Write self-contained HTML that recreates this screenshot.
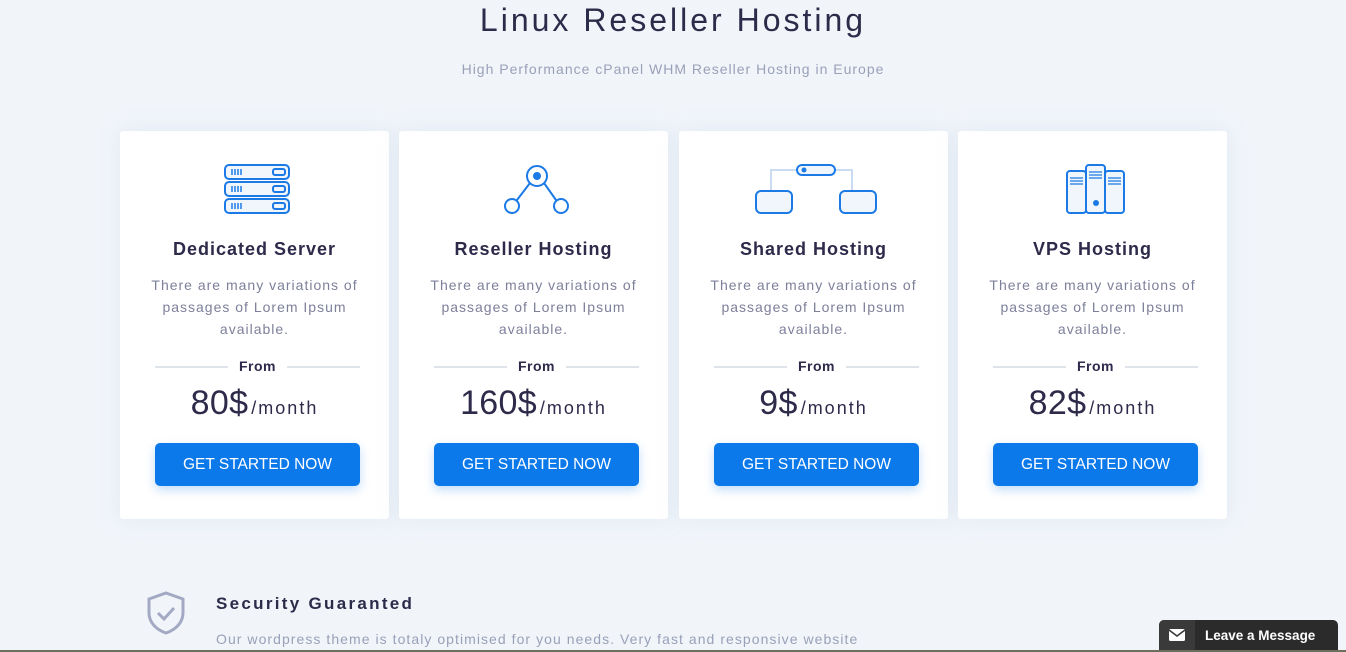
<!DOCTYPE html>
<html><head><meta charset="utf-8"><style>
*{margin:0;padding:0;box-sizing:border-box}
body{width:1346px;height:652px;overflow:hidden;background:#f1f5fa;font-family:"Liberation Sans",sans-serif;position:relative}
.t{position:absolute;left:0;width:1346px;text-align:center}
.card{position:absolute;top:131px;width:269px;height:388px;background:#fff;border-radius:3px;box-shadow:0 0 20px rgba(180,200,225,.25)}
.card .ic{position:absolute;left:0;top:30px;width:269px;height:60px}
.card h3{position:absolute;top:108px;width:100%;text-align:center;font-size:18px;font-weight:bold;color:#2d2a4a;letter-spacing:1px}
.card p{position:absolute;top:143px;left:15px;width:239px;text-align:center;font-size:14px;line-height:22px;color:#7d809a;letter-spacing:1px}
.from{position:absolute;top:227px;left:35px;width:205px;height:16px}
.from:before,.from:after{content:"";position:absolute;top:8px;width:73px;height:2px;background:#dfe3ea}
.from:before{left:0}.from:after{right:0}
.from span{position:absolute;left:0;width:100%;text-align:center;font-size:14px;font-weight:bold;color:#2d2a4a;letter-spacing:.5px}
.price{position:absolute;top:253px;width:100%;text-align:center;color:#2d2a4a}
.price b{font-size:34px;font-weight:normal;letter-spacing:.3px}
.price i{font-style:normal;font-size:18px;letter-spacing:2px;margin-left:3px}
.btn{position:absolute;top:312px;left:35px;width:205px;height:43px;background:#0b79e9;border-radius:5px;color:#fff;font-size:15.5px;text-align:center;line-height:43px;letter-spacing:0;box-shadow:0 4px 10px rgba(11,121,233,.25)}
</style></head><body>
<div class="t" style="top:0;font-size:32px;color:#2d2a4a;letter-spacing:3px;line-height:40px">Linux Reseller Hosting</div>
<div class="t" style="top:61px;font-size:14px;color:#9aa0b8;letter-spacing:1px">High Performance cPanel WHM Reseller Hosting in Europe</div>

<div class="card" style="left:120px">
<svg class="ic" viewBox="0 0 269 60"><g fill="#f1f6fc" stroke="#1b7ae6" stroke-width="2">
<rect x="105" y="4" width="64" height="14" rx="4"/><rect x="105" y="21" width="64" height="14" rx="4"/><rect x="105" y="38" width="64" height="14" rx="4"/>
<rect x="153" y="8" width="12" height="6" rx="2"/><rect x="153" y="25" width="12" height="6" rx="2"/><rect x="153" y="42" width="12" height="6" rx="2"/></g>
<g stroke="#1b7ae6" stroke-width="1.5"><path d="M112 8v6M115 8v6M118 8v6M121 8v6M112 25v6M115 25v6M118 25v6M121 25v6M112 42v6M115 42v6M118 42v6M121 42v6"/></g></svg>
<h3>Dedicated Server</h3><p>There are many variations of passages of Lorem Ipsum available.</p>
<div class="from"><span>From</span></div><div class="price"><b>80$</b><i>/month</i></div><div class="btn">GET STARTED NOW</div></div>

<div class="card" style="left:399px">
<svg class="ic" viewBox="0 0 269 60"><g fill="none" stroke="#1b7ae6" stroke-width="2">
<circle cx="138" cy="15" r="10"/><circle cx="113" cy="45" r="7"/><circle cx="162" cy="45" r="7"/><path d="M131 22l-13 17M145 22l12 17"/></g><circle cx="138" cy="15" r="4" fill="#1b7ae6"/></svg>
<h3>Reseller Hosting</h3><p>There are many variations of passages of Lorem Ipsum available.</p>
<div class="from"><span>From</span></div><div class="price"><b>160$</b><i>/month</i></div><div class="btn">GET STARTED NOW</div></div>

<div class="card" style="left:679px">
<svg class="ic" viewBox="0 0 269 60"><path d="M92 29v-20h26M149 9h24v20" fill="none" stroke="#c9dcf2" stroke-width="2"/>
<g fill="#f1f6fc" stroke="#1b7ae6" stroke-width="2"><rect x="118" y="4" width="38" height="10" rx="5"/><rect x="77" y="30" width="36" height="22" rx="5"/><rect x="161" y="30" width="36" height="22" rx="5"/></g><circle cx="125" cy="9" r="2.5" fill="#1b7ae6"/></svg>
<h3>Shared Hosting</h3><p>There are many variations of passages of Lorem Ipsum available.</p>
<div class="from"><span>From</span></div><div class="price"><b>9$</b><i>/month</i></div><div class="btn">GET STARTED NOW</div></div>

<div class="card" style="left:958px">
<svg class="ic" viewBox="0 0 269 60"><g fill="#f1f6fc" stroke="#1b7ae6" stroke-width="2"><rect x="109" y="10" width="19" height="42" rx="3"/><rect x="147" y="10" width="19" height="42" rx="3"/><rect x="128" y="4" width="19" height="48" rx="3"/></g>
<g stroke="#1b7ae6" stroke-width="1.2"><path d="M112 17h13M112 20h13M112 23h13M150 17h13M150 20h13M150 23h13M131 11h13M131 14h13M131 17h13"/></g><circle cx="138" cy="42" r="3" fill="#1b7ae6"/></svg>
<h3>VPS Hosting</h3><p>There are many variations of passages of Lorem Ipsum available.</p>
<div class="from"><span>From</span></div><div class="price"><b>82$</b><i>/month</i></div><div class="btn">GET STARTED NOW</div></div>

<svg style="position:absolute;left:145px;top:590px" width="42" height="46" viewBox="0 0 42 46"><path d="M21 3l17 6v14c0 10-8 17-17 20C12 40 4 33 4 23V9z" fill="none" stroke="#a3a8c3" stroke-width="3"/><path d="M13 23l6 6 10-11" fill="none" stroke="#a3a8c3" stroke-width="3"/></svg>
<div style="position:absolute;left:216px;top:594px;font-size:17px;font-weight:bold;color:#2d2a4a;letter-spacing:2.3px">Security Guaranted</div>
<div style="position:absolute;left:216px;top:631px;font-size:14px;color:#9aa0b8;letter-spacing:1.05px">Our wordpress theme is totaly optimised for you needs. Very fast and responsive website</div>

<div style="position:absolute;left:1159px;top:620px;width:179px;height:32px;background:#2b2b2b;border-radius:5px 5px 0 0"></div>
<div style="position:absolute;left:1159px;top:620px;width:36px;height:32px;background:#3a3a3a;border-radius:5px 0 0 0"></div>
<svg style="position:absolute;left:1169px;top:629px" width="16" height="12"><rect width="16" height="12" rx="1.5" fill="#fff"/><path d="M0 1l8 6 8-6" fill="none" stroke="#3a3a3a" stroke-width="1.6"/></svg>
<div style="position:absolute;left:1205px;top:628px;font-size:13.5px;font-weight:bold;color:#fff">Leave a Message</div>
<div style="position:absolute;left:0;top:650px;width:1346px;height:2px;background:#6e6e5e"></div>
</body></html>
